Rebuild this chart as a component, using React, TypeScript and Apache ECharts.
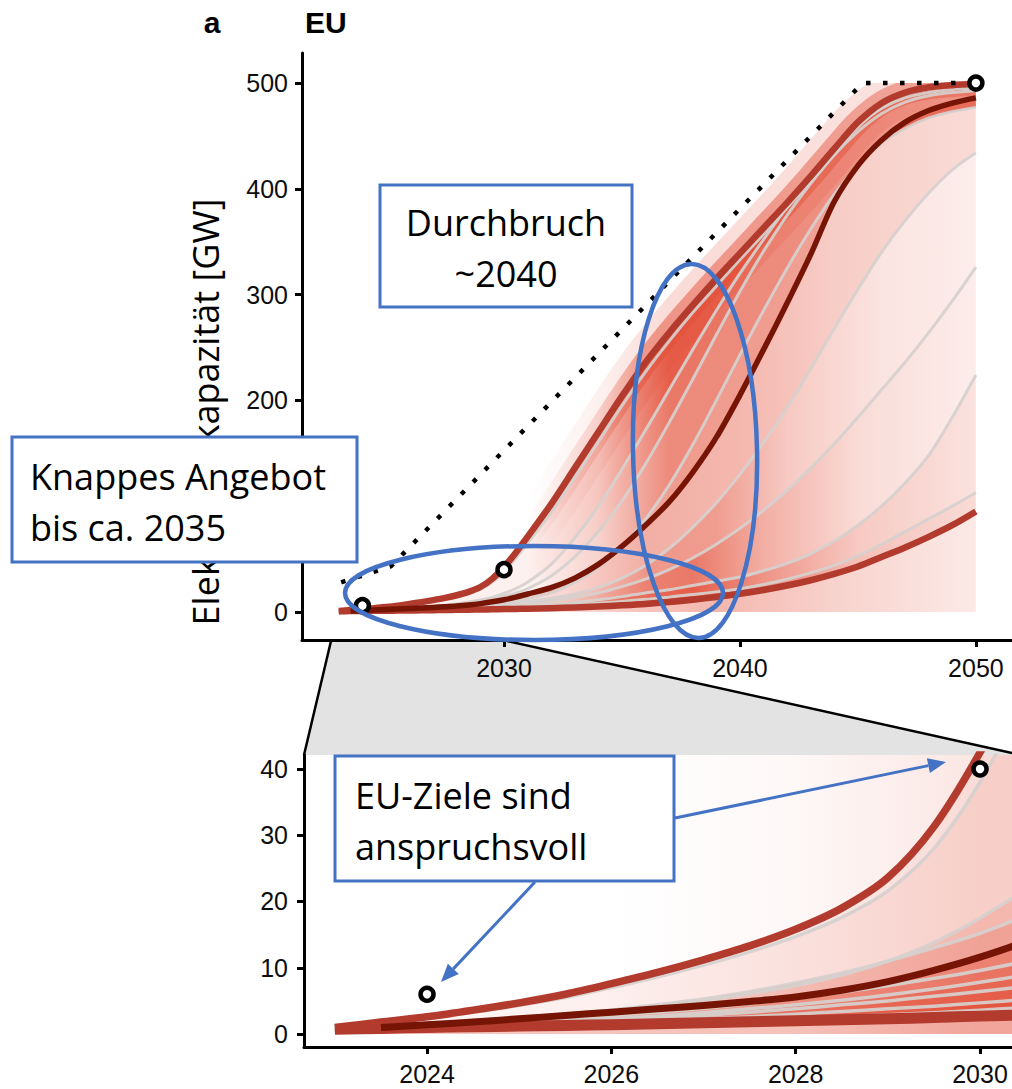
import { useEffect, useRef } from "react";
import * as echarts from "echarts";

// Sample years shared by every scenario path (half-year steps up to 2031, yearly afterwards)
const years = [
  2023, 2023.5, 2024, 2024.5, 2025, 2025.5, 2026, 2026.5, 2027, 2027.5, 2028, 2028.5,
  2029, 2029.5, 2030, 2030.5, 2031, 2032, 2033, 2034, 2035, 2036, 2037, 2038, 2039,
  2040, 2041, 2042, 2043, 2044, 2045, 2046, 2047, 2048, 2049, 2050,
];

// Highlighted scenarios, electrolysis capacity in GW
const upperPath = [1.0, 1.8, 2.6, 3.6, 4.7, 6.0, 7.6, 9.3, 11.2, 13.3, 15.8, 19.0, 23.6, 31.3, 42.5, 56, 71, 102, 136, 170, 204, 236, 264, 290, 315, 339, 363, 387, 412, 438, 463, 481, 491, 496, 498, 499];
const medianPath = [null, 1.0, 1.4, 1.8, 2.3, 2.8, 3.3, 3.8, 4.3, 4.9, 5.6, 6.6, 7.9, 9.6, 11.6, 14, 17, 23, 32, 45, 62, 82, 104, 132, 165, 205, 248, 292, 338, 388, 422, 446, 463, 474, 481, 486];
const lowerPath = [0.7, 0.85, 1.0, 1.1, 1.2, 1.3, 1.4, 1.55, 1.7, 1.85, 2.0, 2.15, 2.3, 2.5, 2.7, 2.9, 3.1, 3.6, 4.3, 5.2, 6.3, 7.6, 9.4, 11.6, 14.2, 17.2, 20.8, 25, 30, 36, 43, 52, 61, 71, 82, 95];

// Further scenarios (grey)
const scenarioA = [0.9, 1.6, 2.4, 3.3, 4.3, 5.5, 7.0, 8.6, 10.4, 12.4, 14.7, 17.6, 21.6, 28.0, 38, 51, 65, 94, 127, 161, 195, 227, 256, 283, 308, 333, 357, 382, 407, 433, 458, 477, 489, 494, 497, 498];
const scenarioB = [0.8, 1.2, 1.6, 2.0, 2.5, 3.0, 3.6, 4.3, 5.1, 6.1, 7.3, 8.9, 11.0, 13.8, 17.5, 22, 28, 45, 70, 100, 135, 172, 210, 248, 285, 320, 352, 383, 412, 438, 460, 476, 486, 491, 494, 495];
const scenarioC = [0.7, 1.0, 1.3, 1.7, 2.1, 2.6, 3.6, 4.4, 5.3, 6.4, 7.7, 9.2, 11.0, 13.0, 15.2, 18, 22, 34, 52, 76, 105, 140, 179, 220, 262, 303, 341, 375, 405, 432, 454, 471, 482, 488, 491, 493];
const scenarioD = [0.6, 0.9, 1.2, 1.5, 1.9, 2.3, 2.8, 3.3, 3.9, 4.6, 5.4, 6.3, 7.3, 8.4, 9.6, 11, 12.6, 18, 28, 42, 62, 88, 120, 158, 200, 243, 285, 325, 362, 395, 422, 443, 457, 467, 473, 477];
const scenarioE = [0.6, 0.8, 1.0, 1.3, 1.6, 1.9, 2.3, 2.7, 3.2, 3.8, 4.4, 5.1, 5.9, 6.8, 7.8, 8.9, 10, 13, 17, 23, 32, 44, 60, 80, 103, 130, 160, 193, 230, 268, 305, 340, 370, 396, 418, 434];
const scenarioF = [0.5, 0.7, 0.9, 1.1, 1.4, 1.7, 2.0, 2.4, 2.8, 3.3, 3.8, 4.4, 5.0, 5.7, 6.4, 7.2, 8, 10.5, 14, 18, 24, 31, 40, 51, 64, 79, 96, 115, 136, 159, 184, 210, 236, 264, 294, 326];
const scenarioG = [0.5, 0.6, 0.8, 1.0, 1.2, 1.4, 1.7, 2.0, 2.3, 2.6, 3.0, 3.4, 3.8, 4.2, 4.7, 5.2, 5.7, 7, 9, 11.5, 14.5, 18, 21, 25, 29, 33, 39, 46, 55, 67, 82, 100, 122, 148, 184, 224];
const scenarioH = [0.5, 0.6, 0.7, 0.85, 1.0, 1.2, 1.4, 1.6, 1.8, 2.0, 2.3, 2.6, 2.9, 3.2, 3.6, 4.0, 4.4, 5.5, 6.8, 8.2, 10, 12, 14, 16.5, 19, 22, 26, 31, 37, 44, 53, 64, 76, 88, 100, 113];

// EU targets
const targetPoints = [[2024, 6], [2030, 40], [2050, 500]];
const targetPath = [[2023.1, 28], [2025.2, 43], [2045.2, 500], [2050, 500]];

// Axis ticks and labels
const mainYTicks = [0, 100, 200, 300, 400, 500];
const mainYLabels = [0, 200, 300, 400, 500];
const mainXTicks = [2030, 2040, 2050];
const zoomYTicks = [0, 10, 20, 30, 40];
const zoomXTicks = [2024, 2026, 2028, 2030];

// Extent of the scenario density field in the main panel
const densityYears = [2023, 2050];
const densityValues = [0, 500];

// Density shading: bands between neighbouring scenarios, intensity by year
type Band = [string, string, number[][]];
const mainBands: Band[] = [
  ["zero", "lower", [[2030, 0.05], [2035, 0.3], [2039, 0.4], [2044, 0.25], [2050, 0.12]]],
  ["lower", "h", [[2028, 0.1], [2032, 0.4], [2035, 0.82], [2038, 0.95], [2041, 0.7], [2045, 0.35], [2050, 0.2]]],
  ["h", "g", [[2028, 0.1], [2032, 0.4], [2035, 0.78], [2038, 0.9], [2041, 0.6], [2045, 0.3], [2050, 0.16]]],
  ["g", "f", [[2029, 0.1], [2033, 0.35], [2036, 0.7], [2038, 0.75], [2041, 0.45], [2045, 0.2], [2050, 0.1]]],
  ["f", "e", [[2029, 0.1], [2033, 0.3], [2036, 0.58], [2039, 0.55], [2042, 0.3], [2046, 0.15], [2050, 0.1]]],
  ["e", "median", [[2029, 0.08], [2033, 0.25], [2036, 0.45], [2040, 0.4], [2044, 0.28], [2050, 0.2]]],
  ["median", "d", [[2031, 0.06], [2034, 0.22], [2037, 0.55], [2041, 0.55], [2046, 0.5], [2050, 0.45]]],
  ["d", "c", [[2031, 0.06], [2034, 0.25], [2037, 0.65], [2041, 0.65], [2046, 0.6], [2050, 0.5]]],
  ["c", "b", [[2031, 0.06], [2034, 0.28], [2037, 0.75], [2041, 0.8], [2046, 0.7], [2050, 0.6]]],
  ["b", "a", [[2031, 0.08], [2034, 0.32], [2037, 0.9], [2041, 0.9], [2046, 0.8], [2050, 0.7]]],
  ["a", "upper", [[2031, 0.1], [2034, 0.38], [2037, 0.95], [2041, 0.9], [2046, 0.85], [2050, 0.75]]],
];
const zoomBands: Band[] = [
  ["zero", "lower", [[2023, 0.6], [2024, 0.3], [2028, 0.35], [2030, 0.5]]],
  ["lower", "h", [[2023, 0.7], [2025, 0.55], [2028, 0.85], [2030, 0.95]]],
  ["h", "g", [[2023, 0.7], [2025, 0.55], [2028, 0.85], [2030, 0.95]]],
  ["g", "f", [[2023, 0.65], [2025, 0.5], [2028, 0.8], [2030, 0.9]]],
  ["f", "e", [[2023, 0.6], [2025, 0.45], [2028, 0.72], [2030, 0.85]]],
  ["e", "d", [[2023, 0.5], [2025, 0.4], [2028, 0.62], [2030, 0.78]]],
  ["d", "median", [[2024, 0.4], [2026, 0.4], [2028, 0.55], [2030, 0.7]]],
  ["median", "c", [[2024, 0.2], [2026, 0.25], [2028, 0.38], [2030, 0.52]]],
  ["c", "b", [[2024, 0.1], [2026, 0.15], [2028, 0.27], [2030, 0.4]]],
  ["b", "a", [[2024, 0.05], [2026, 0.09], [2028, 0.17], [2030, 0.27]]],
  ["a", "upper", [[2024, 0.03], [2026, 0.06], [2028, 0.12], [2030, 0.2]]],
  ["upper", "top", [[2026, 0], [2028, 0.04], [2030, 0.14]]],
];

const RED = "227,76,53";
const BRICK = "#b23b2e";
const MAROON = "#761405";
const GREY = "rgba(214,208,206,0.92)";
const BLUE = "#4472c4";

const CURVES: Record<string, (number | null)[]> = {
  upper: upperPath, median: medianPath, lower: lowerPath,
  a: scenarioA, b: scenarioB, c: scenarioC, d: scenarioD,
  e: scenarioE, f: scenarioF, g: scenarioG, h: scenarioH,
};
const greyNames = ["h", "g", "f", "e", "d", "c", "b", "a"];

function pairs(values: (number | null)[]) {
  const out: number[][] = [];
  values.forEach((v, i) => { if (v != null) out.push([years[i], v]); });
  return out;
}

function curvePixels(api: any, name: string, cs: any) {
  const pts: number[][] = [];
  years.forEach((yr, i) => {
    if (name === "top") { pts.push([api.coord([yr, 0])[0], cs.y]); return; }
    const v = name === "zero" ? 0 : CURVES[name][i];
    if (v == null) return;
    pts.push(api.coord([yr, v]));
  });
  return pts;
}

function shade(api: any, stops: number[][]) {
  const xs = stops.map((s) => api.coord([s[0], 0])[0]);
  const x0 = xs[0], x1 = xs[xs.length - 1];
  return {
    type: "linear", x: x0, y: 0, x2: x1, y2: 0, global: true,
    colorStops: stops.map((s, i) => ({ offset: (xs[i] - x0) / (x1 - x0), color: `rgba(${RED},${s[1]})` })),
  };
}

function densitySeries(axis: number, bands: Band[], glow: any[], clipToField: boolean) {
  return {
    type: "custom", xAxisIndex: axis, yAxisIndex: axis, silent: true, z: 1, clip: true,
    data: [[2030, 0]],
    renderItem: (params: any, api: any) => {
      const cs = params.coordSys;
      const children: any[] = [];
      glow.forEach((g) => {
        children.push({
          type: "polyline", shape: { points: curvePixels(api, g.curve, cs), smooth: 0.3 },
          style: { fill: "none", stroke: shade(api, g.stops), lineWidth: g.width, lineJoin: "round", lineCap: "butt" },
        });
      });
      bands.forEach(([lo, hi, stops]) => {
        const a = curvePixels(api, lo, cs);
        const b = curvePixels(api, hi, cs).reverse();
        children.push({ type: "polygon", shape: { points: a.concat(b) }, style: { fill: shade(api, stops) } });
      });
      const el: any = { type: "group", children };
      if (clipToField) {
        const p = api.coord([densityYears[0], densityValues[1]]);
        const q = api.coord([densityYears[1], densityValues[0]]);
        el.clipPath = { type: "rect", shape: { x: p[0], y: p[1], width: q[0] - p[0], height: q[1] - p[1] } };
      }
      return el;
    },
  };
}

function lineSeries(axis: number, name: string, color: string, width: number, z: number) {
  return {
    type: "line", xAxisIndex: axis, yAxisIndex: axis, data: pairs(CURVES[name]),
    showSymbol: false, symbol: "none", smooth: 0.3, silent: true, z,
    lineStyle: { color, width, cap: "butt", join: "round" },
  };
}

function valueAxis(grid: number, min: number, max: number, ticks: number[], labels: number[], margin: number, pos: string) {
  return {
    type: "value", gridIndex: grid, min, max, position: pos,
    axisLine: { show: true, onZero: false, lineStyle: { color: "#000", width: 3 } },
    axisTick: { show: true, customValues: ticks, length: 7, lineStyle: { color: "#000", width: 3 } },
    axisLabel: {
      show: true, customValues: labels, margin, formatter: (v: number) => String(v),
      fontFamily: "Liberation Sans", fontSize: 25, color: "#0d0d0d",
    },
    splitLine: { show: false },
  };
}

function arrow(x1: number, y1: number, x2: number, y2: number) {
  const len = Math.hypot(x2 - x1, y2 - y1);
  const ux = (x2 - x1) / len, uy = (y2 - y1) / len;
  const bx = x2 - ux * 18, by = y2 - uy * 18, h = 7.5;
  return [
    { type: "line", z: 100, shape: { x1, y1, x2: bx, y2: by }, style: { stroke: BLUE, lineWidth: 3 } },
    { type: "polygon", z: 100, shape: { points: [[x2, y2], [bx - uy * h, by + ux * h], [bx + uy * h, by - ux * h]] }, style: { fill: BLUE } },
  ];
}

function label(text: string, x: number, y: number, align: string, font: string, extra: any = {}) {
  return {
    type: "text", x, y, z: 101, ...extra,
    style: { text, font, fill: "#000", textAlign: align, align, textVerticalAlign: "middle", verticalAlign: "middle" },
  };
}

function box(x: number, y: number, w: number, h: number) {
  return { type: "rect", z: 100, shape: { x, y, width: w, height: h }, style: { fill: "#fff", stroke: BLUE, lineWidth: 3 } };
}

function buildOption() {
  const calibri = '36px "Open Sans"';
  const series: any[] = [
    densitySeries(0, mainBands, [
      { curve: "upper", width: 48, stops: [[2031, 0], [2034, 0.08], [2037, 0.2], [2044, 0.17], [2050, 0.15]] },
      { curve: "upper", width: 24, stops: [[2031, 0], [2034, 0.2], [2036, 0.5], [2044, 0.45], [2050, 0.4]] },
    ], true),
    densitySeries(1, zoomBands, [], false),
  ];
  [0, 1].forEach((ax) => {
    const inset = ax === 1;
    greyNames.forEach((n) => series.push(lineSeries(ax, n, GREY, inset ? 3.5 : 3, 2)));
    series.push(lineSeries(ax, "lower", BRICK, inset ? 11 : 6.5, 3));
    series.push(lineSeries(ax, "upper", BRICK, inset ? 7.5 : 6.5, 3));
    series.push(lineSeries(ax, "median", MAROON, inset ? 7 : 5.5, 4));
  });
  series.push({
    type: "line", xAxisIndex: 0, yAxisIndex: 0, data: targetPath, showSymbol: false, symbol: "none", silent: true, z: 5,
    lineStyle: { color: "#000", width: 4.5, type: [4.5, 12.5] },
  });
  const ring = { color: "#fff", borderColor: "#000", borderWidth: 4.5, opacity: 1 };
  series.push({
    type: "scatter", xAxisIndex: 0, yAxisIndex: 0, data: targetPoints, symbol: "circle", symbolSize: 13, z: 6, silent: true,
    itemStyle: ring,
  });
  series.push({
    type: "scatter", xAxisIndex: 1, yAxisIndex: 1, data: targetPoints.filter((p) => p[0] <= 2030), symbol: "circle", symbolSize: 13, z: 6, silent: true,
    itemStyle: ring,
  });

  return {
    animation: false,
    backgroundColor: "#fff",
    grid: [
      { left: 302, top: 53, width: 710, height: 587 },
      { left: 304, top: 755, width: 708, height: 292 },
    ],
    xAxis: [
      valueAxis(0, 2021.44, 2051.53, mainXTicks, mainXTicks, 15, "bottom"),
      valueAxis(1, 2022.665, 2030.347, zoomXTicks, zoomXTicks, 14, "bottom"),
    ],
    yAxis: [
      valueAxis(0, -26.5, 528.4, mainYTicks, mainYLabels, 14, "left"),
      valueAxis(1, -1.96, 42.11, zoomYTicks, zoomYTicks, 16, "left"),
    ],
    series,
    graphic: [
      // zoom connector
      { type: "polygon", z: -1, shape: { points: [[331, 641], [507, 641], [1012, 753], [1012, 755], [304, 755]] }, style: { fill: "#e3e3e3" } },
      { type: "line", z: -1, shape: { x1: 331, y1: 641, x2: 304, y2: 755 }, style: { stroke: "#000", lineWidth: 2.5 } },
      { type: "line", z: -1, shape: { x1: 507, y1: 641, x2: 1012, y2: 753 }, style: { stroke: "#000", lineWidth: 2.5 } },
      // panel titles
      label("a", 212, 22, "center", 'bold 30px "Liberation Sans"'),
      label("EU", 305, 22, "left", 'bold 30px "Liberation Sans"'),
      // y axis title
      { ...label("Elektrolysekapazität [GW]", 205, 412, "center", calibri), z: 50, rotation: Math.PI / 2 },
      // highlight ellipses
      { type: "ellipse", z: 99, shape: { cx: 534, cy: 593, rx: 189, ry: 47 }, style: { fill: "none", stroke: BLUE, lineWidth: 4.5 } },
      { type: "ellipse", z: 99, x: 695, y: 451, rotation: 0.02, shape: { cx: 0, cy: 0, rx: 62, ry: 187 }, style: { fill: "none", stroke: BLUE, lineWidth: 4.5 } },
      // annotation boxes
      box(380, 185, 252, 122),
      label("Durchbruch", 506, 222, "center", calibri),
      label("~2040", 506, 273, "center", calibri),
      box(12, 437, 345, 125),
      label("Knappes Angebot", 30, 476, "left", calibri),
      label("bis ca. 2035", 30, 527, "left", calibri),
      box(335, 756, 339, 125),
      label("EU-Ziele sind", 355, 795, "left", calibri),
      label("anspruchsvoll", 355, 846, "left", calibri),
      ...arrow(675, 818, 946, 762),
      ...arrow(535, 882, 441, 982),
    ],
  };
}

export default function App() {
  const ref = useRef<HTMLDivElement>(null);
  useEffect(() => {
    const chart = echarts.init(ref.current!, null, { renderer: "svg" });
    chart.setOption(buildOption() as any);
    return () => chart.dispose();
  }, []);
  return (
    <div
      ref={ref}
      style={{ position: "absolute", left: 0, top: 0, width: 1012, height: 1089, background: "#fff" }}
    />
  );
}
